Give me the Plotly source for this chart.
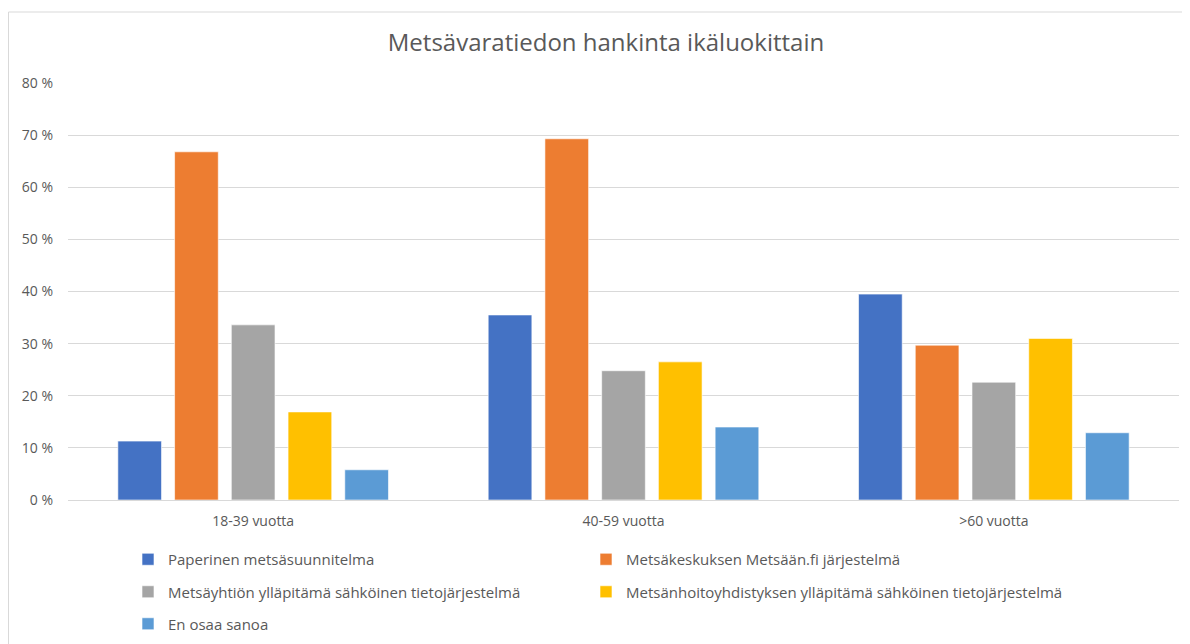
import plotly.graph_objects as go

categories = ["18-39 vuotta", "40-59 vuotta", ">60 vuotta"]
series_names = [
    "Paperinen metsäsuunnitelma",
    "Metsäkeskuksen Metsään.fi järjestelmä",
    "Metsäyhtiön ylläpitämä sähköinen tietojärjestelmä",
    "Metsänhoitoyhdistyksen ylläpitämä sähköinen tietojärjestelmä",
    "En osaa sanoa",
]
paperinen = [11.3, 35.5, 39.5]
metsaan_fi = [66.8, 69.3, 29.7]
metsayhtio = [33.6, 24.8, 22.6]
mhy = [16.9, 26.5, 31.0]
en_osaa = [5.8, 14.0, 12.9]
series_values = [paperinen, metsaan_fi, metsayhtio, mhy, en_osaa]
colors = ["#4472C4", "#ED7D31", "#A5A5A5", "#FFC000", "#5B9BD5"]
legend_ids = ["legend", "legend2", "legend3", "legend4", "legend5"]
y_ticks = [0, 10, 20, 30, 40, 50, 60, 70, 80]
y_ticktext = [f"{v} %" for v in y_ticks]

# page has 8px body margin -> figure is 8px smaller, reference coords shifted by 8
OFF = 8
W, H = 1190 - OFF, 644 - OFF
L, R, T, B = 68 - OFF, 11, 83 - OFF, 644 - 500
pw, ph = W - L - R, H - T - B

def px_x(x):  # reference pixel -> paper
    return (x - OFF - L) / pw

def px_y(y):
    return (H - B - (y - OFF)) / ph

fig = go.Figure()
for name, vals, col, lg in zip(series_names, series_values, colors, legend_ids):
    fig.add_trace(go.Bar(
        x=categories, y=vals, name=name, legend=lg,
        marker=dict(color=col, line=dict(color="rgba(255,255,255,0.6)", width=1)),
    ))

font_family = "Open Sans, DejaVu Sans, sans-serif"
gray = "#595959"

legend_common = dict(
    orientation="h", xanchor="left", yanchor="middle",
    font=dict(family=font_family, size=15, color=gray),
    bgcolor="rgba(0,0,0,0)", itemclick=False, itemdoubleclick=False,
)
col1, col2 = px_x(128), px_x(586)
row1, row2, row3 = px_y(559.5), px_y(592), px_y(624)
fig.update_layout(
    width=W, height=H,
    margin=dict(l=L, r=R, t=T, b=B, pad=0, autoexpand=False),
    paper_bgcolor="white", plot_bgcolor="white",
    title=dict(
        text="Metsävaratiedon hankinta ikäluokittain",
        x=(606 - OFF) / W, xanchor="center", y=1 - (43 - OFF) / H, yanchor="middle",
        font=dict(family=font_family, size=24, color=gray),
    ),
    barmode="group", bargap=0.234, bargroupgap=0.23,
    xaxis=dict(
        showgrid=False, showline=False, ticks="", zeroline=False,
        tickfont=dict(family=font_family, size=14, color=gray),
        ticklabelstandoff=11,
    ),
    yaxis=dict(
        range=[0, 80], tickmode="array", tickvals=y_ticks, ticktext=y_ticktext,
        showgrid=True, gridcolor="#D9D9D9", gridwidth=1,
        zeroline=True, zerolinecolor="#D9D9D9", zerolinewidth=1,
        showline=False, ticks="",
        tickfont=dict(family=font_family, size=14, color=gray),
        ticklabelstandoff=14,
    ),
    showlegend=True,
    legend=dict(x=col1, y=row1, **legend_common),
    legend2=dict(x=col2, y=row1, **legend_common),
    legend3=dict(x=col1, y=row2, **legend_common),
    legend4=dict(x=col2, y=row2, **legend_common),
    legend5=dict(x=col1, y=row3, **legend_common),
    shapes=[dict(
        type="rect", xref="paper", yref="paper",
        x0=px_x(8.5), x1=px_x(1210), y0=px_y(670), y1=px_y(12),
        line=dict(color="#D9D9D9", width=1), fillcolor="rgba(0,0,0,0)",
        layer="below",
    )],
)

fig.write_html("out.html")
